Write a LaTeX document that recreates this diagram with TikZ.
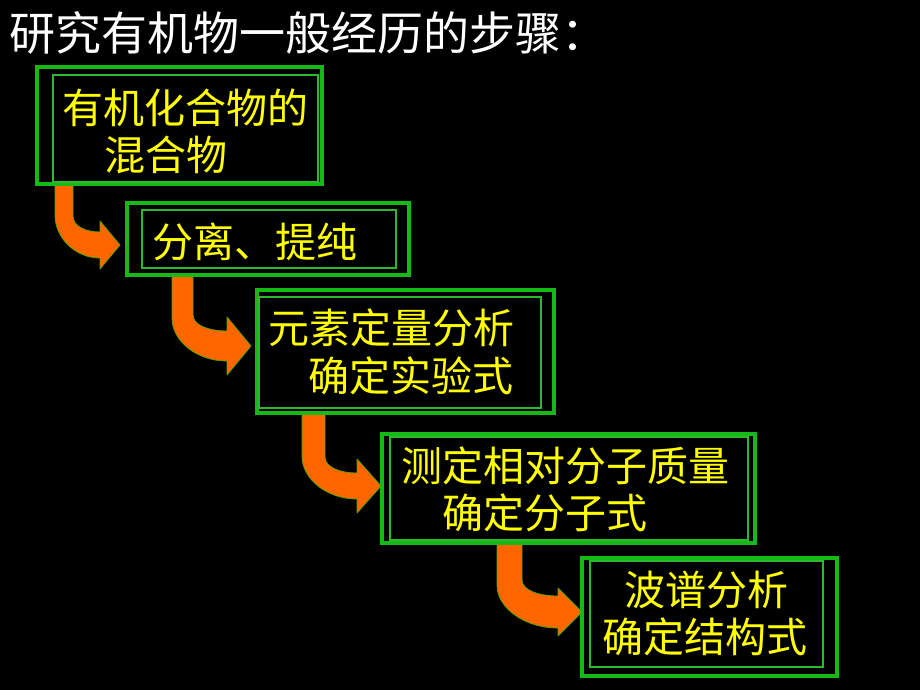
\documentclass[tikz,border=0pt]{standalone}
\usepackage{fontspec}
\newfontfamily\cjk{Noto Sans CJK SC}
\usetikzlibrary{fit,calc}
\definecolor{boxgreen}{RGB}{22,185,22}
\definecolor{innergreen}{RGB}{45,185,45}
\definecolor{txtyellow}{RGB}{255,255,0}
\definecolor{arroworange}{RGB}{255,102,0}
\definecolor{arrowedge}{RGB}{95,160,0}
\tikzset{
  stepbox/.style={draw=boxgreen, line width=4pt, inner sep=0pt, outer sep=0pt},
  innerbox/.style={draw=innergreen, line width=1.1pt, inner sep=0pt, outer sep=0pt},
  steptext/.style={text=txtyellow, font=\cjk\fontsize{41}{48}\selectfont, inner sep=0pt, anchor=west},
  titletext/.style={text=white, font=\cjk\fontsize{46}{52}\selectfont, inner sep=0pt, anchor=west},
  bentfill/.style={fill=arroworange, draw=arrowedge, line width=0.8pt, line join=round}
}
% #1 shaft top-left, #2 tip, #3 shaft width, #4 half thickness of horizontal part, #5 head length, #6 head half height
\newcommand\bentarrow[6]{%
  \path[bentfill] let \p1=(#1), \p2=(#2) in
    (\x1,\y1) -- ({\x1+#3pt},\y1) -- ({\x1+#3pt},{\y2+#4pt+16pt})
    .. controls ({\x1+#3pt},{\y2+#4pt+6pt}) and ({\x2-#5pt-0.55*(\x2-#5pt-\x1-#3pt)},{\y2+#4pt}) .. ({\x2-#5pt},{\y2+#4pt})
    -- ({\x2-#5pt},{\y2+#6pt}) -- (\x2,\y2) -- ({\x2-#5pt},{\y2-#6pt}) -- ({\x2-#5pt},{\y2-#4pt})
    .. controls ({\x1+0.45*(\x2-#5pt-\x1)},{\y2-#4pt}) and (\x1,{\y2-#4pt+20pt}) .. (\x1,{\y2-#4pt+43pt})
    -- cycle;}
\begin{document}
\begin{tikzpicture}[x=1pt,y=-1pt]
\fill[black] (0,0) rectangle (920,690);
\useasboundingbox (0,0) rectangle (920,690);

\node[titletext] (title) at (9,33) {研究有机物一般经历的步骤：};

% box outlines (named, drawn later on top of arrows)
\path (37,67) coordinate (b1nw) (322,184) coordinate (b1se)
      (127,203) coordinate (b2nw) (409,275) coordinate (b2se)
      (257,290) coordinate (b3nw) (554,413) coordinate (b3se)
      (382,434) coordinate (b4nw) (755,543) coordinate (b4se)
      (582,558) coordinate (b5nw) (837,676) coordinate (b5se);
\node[fit=(b1nw)(b1se), inner sep=0pt, outer sep=0pt] (b1) {};
\node[fit=(b2nw)(b2se), inner sep=0pt, outer sep=0pt] (b2) {};
\node[fit=(b3nw)(b3se), inner sep=0pt, outer sep=0pt] (b3) {};
\node[fit=(b4nw)(b4se), inner sep=0pt, outer sep=0pt] (b4) {};
\node[fit=(b5nw)(b5se), inner sep=0pt, outer sep=0pt] (b5) {};

% arrow anchors
\coordinate (s1) at (55,0 |- b1.south);
\coordinate (e1) at ($(b2.west |- 0,245)+(-7,0)$);
\coordinate (s2) at (172,0 |- b2.south);
\coordinate (e2) at ($(b3.west |- 0,346)+(-6,0)$);
\coordinate (s3) at (302,0 |- b3.south);
\coordinate (e3) at ($(b4.west |- 0,486)+(-1,0)$);
\coordinate (s4) at (497,0 |- b4.south);
\coordinate (e4) at ($(b5.west |- 0,612)+(0,0)$);

\bentarrow{s1}{e1}{18}{13}{20}{24}
\bentarrow{s2}{e2}{21}{15}{24}{29}
\bentarrow{s3}{e3}{23}{13}{24}{27}
\bentarrow{s4}{e4}{25}{16}{24}{24}

% boxes
\node[stepbox, fit=(b1nw)(b1se)] (box1) {};
\node[innerbox, fit={(53,75)(318,182)}] (in1) {};
\node[stepbox, fit=(b2nw)(b2se)] (box2) {};
\node[innerbox, fit={(142,210)(396,268)}] (in2) {};
\node[stepbox, fit=(b3nw)(b3se)] (box3) {};
\node[innerbox, fit={(259,297)(541,408)}] (in3) {};
\node[stepbox, fit=(b4nw)(b4se)] (box4) {};
\node[innerbox, fit={(390,437)(748,540)}] (in4) {};
\node[stepbox, fit=(b5nw)(b5se)] (box5) {};
\node[innerbox, fit={(590,561)(823,667)}] (in5) {};

% texts
\node[steptext] (t1a) at (62,108) {有机化合物的};
\node[steptext] (t1b) at (104,155) {混合物};
\node[steptext] (t2)  at (152,242) {分离、提纯};
\node[steptext] (t3a) at (268,328) {元素定量分析};
\node[steptext] (t3b) at (308,376) {确定实验式};
\node[steptext] (t4a) at (401,466) {测定相对分子质量};
\node[steptext] (t4b) at (442,513) {确定分子式};
\node[steptext] (t5a) at (624,590) {波谱分析};
\node[steptext] (t5b) at (602,637) {确定结构式};
\end{tikzpicture}
\end{document}
